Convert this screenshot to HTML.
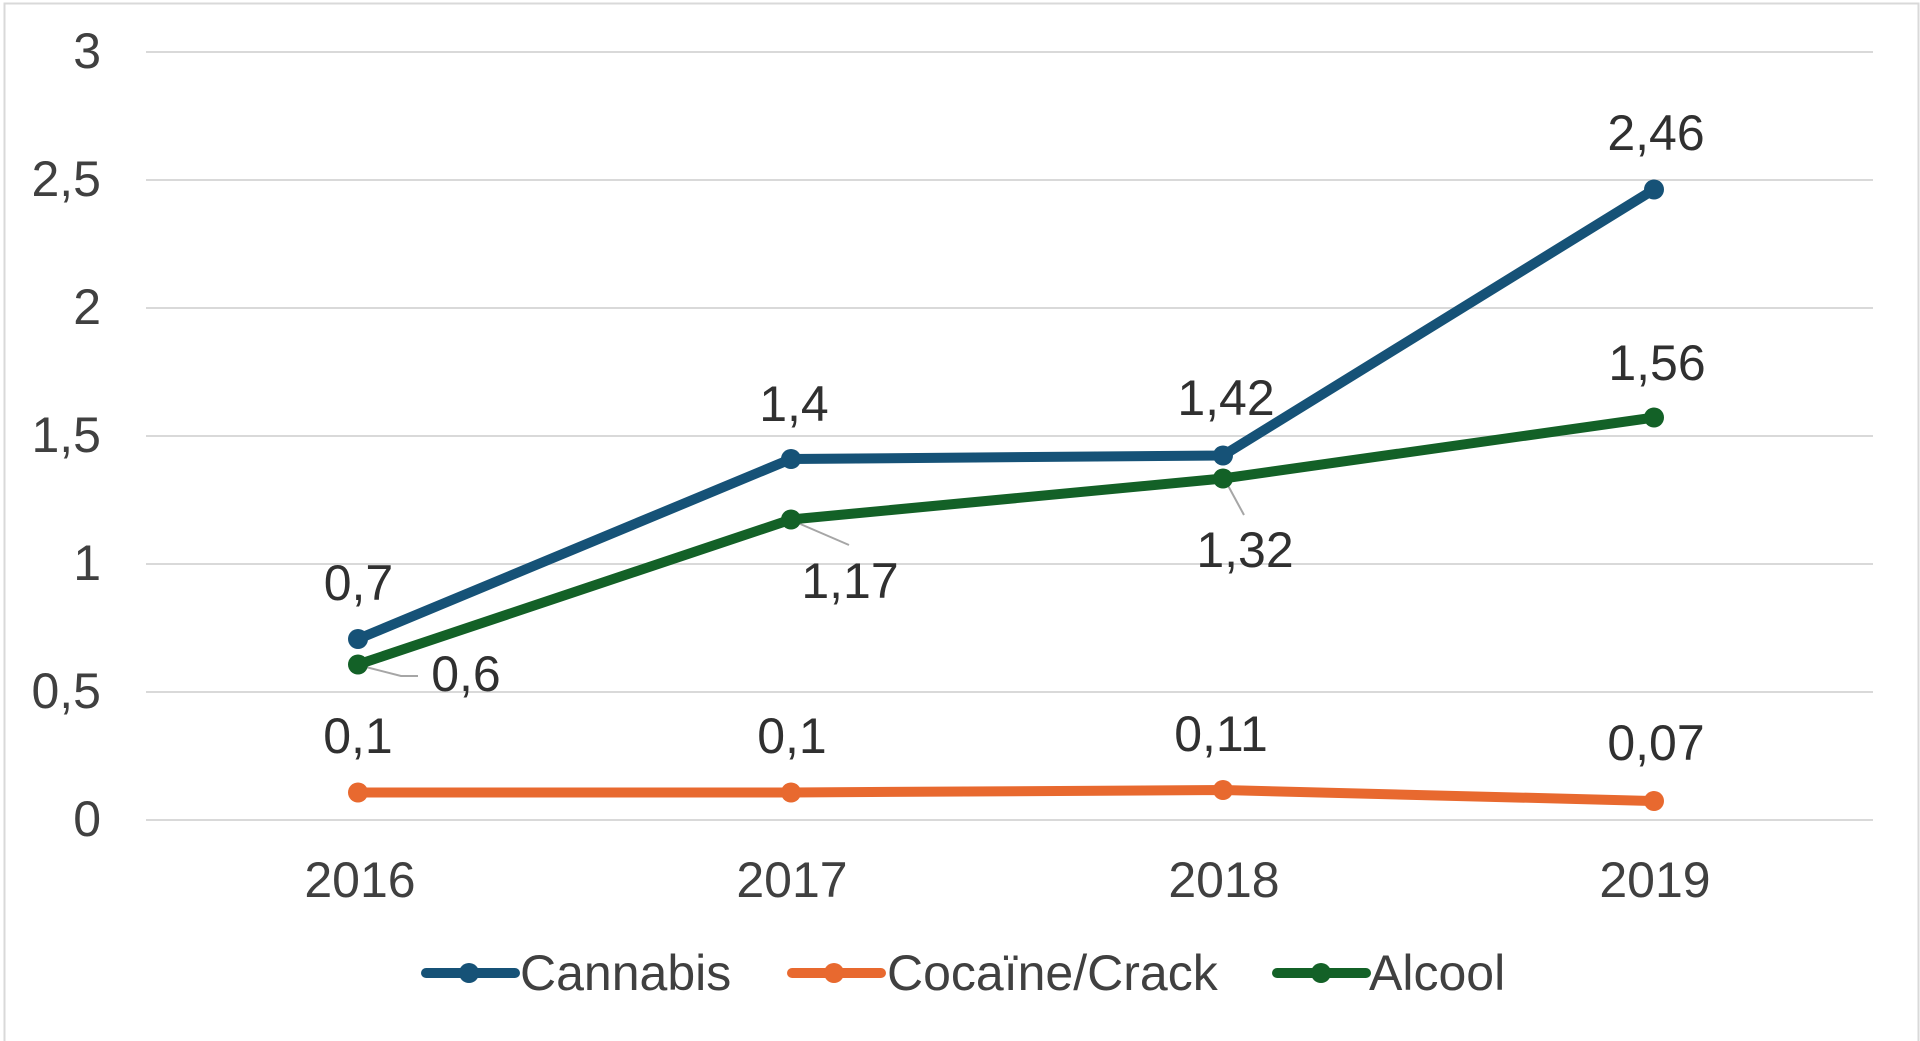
<!DOCTYPE html>
<html>
<head>
<meta charset="utf-8">
<style>
  html, body { margin: 0; padding: 0; background: #ffffff; }
  svg { display: block; }
  text { font-family: "Liberation Sans", Arial, sans-serif; font-size: 50px; }
  .ax { fill: #404040; }
  .dl { fill: #303030; }
  .lg { fill: #404040; }
</style>
</head>
<body>
<svg width="1920" height="1041" viewBox="0 0 1920 1041" xmlns="http://www.w3.org/2000/svg">
  <rect x="0" y="0" width="1920" height="1041" fill="#ffffff"/>
  <!-- chart border -->
  <path d="M4.5 1041 V3.5 H1918.5 V1041" fill="none" stroke="#d9d9d9" stroke-width="2"/>

  <!-- gridlines -->
  <g stroke="#d9d9d9" stroke-width="2">
    <line x1="146" y1="52" x2="1873" y2="52"/>
    <line x1="146" y1="180" x2="1873" y2="180"/>
    <line x1="146" y1="308" x2="1873" y2="308"/>
    <line x1="146" y1="436" x2="1873" y2="436"/>
    <line x1="146" y1="564" x2="1873" y2="564"/>
    <line x1="146" y1="692" x2="1873" y2="692"/>
    <line x1="146" y1="820" x2="1873" y2="820"/>
  </g>

  <!-- y axis labels -->
  <g class="ax" text-anchor="end">
    <text x="101" y="68">3</text>
    <text x="101" y="196">2,5</text>
    <text x="101" y="324">2</text>
    <text x="101" y="452">1,5</text>
    <text x="101" y="580">1</text>
    <text x="101" y="708">0,5</text>
    <text x="101" y="836">0</text>
  </g>

  <!-- x axis labels -->
  <g class="ax" text-anchor="middle">
    <text x="360" y="897">2016</text>
    <text x="792" y="897">2017</text>
    <text x="1224" y="897">2018</text>
    <text x="1655" y="897">2019</text>
  </g>

  <!-- leader lines -->
  <g stroke="#a6a6a6" stroke-width="2" fill="none">
    <polyline points="358,665 401,676 418,676"/>
    <line x1="791" y1="520" x2="849" y2="545"/>
    <line x1="1225" y1="480" x2="1244" y2="515"/>
  </g>

  <!-- Cocaine/Crack series -->
  <polyline points="358,792.5 791,792.5 1223,790 1654,801" fill="none" stroke="#e8692f" stroke-width="10" stroke-linejoin="round"/>
  <g fill="#e8692f">
    <circle cx="358" cy="792.5" r="10"/>
    <circle cx="791" cy="792.5" r="10"/>
    <circle cx="1223" cy="790" r="10"/>
    <circle cx="1654" cy="801" r="10"/>
  </g>

  <!-- Alcool series -->
  <polyline points="358,664.5 791,519.5 1223,478.5 1654,417.5" fill="none" stroke="#136127" stroke-width="10" stroke-linejoin="round"/>
  <g fill="#136127">
    <circle cx="358" cy="664.5" r="10"/>
    <circle cx="791" cy="519.5" r="10"/>
    <circle cx="1223" cy="478.5" r="10"/>
    <circle cx="1654" cy="417.5" r="10"/>
  </g>

  <!-- Cannabis series -->
  <polyline points="358,639 791,459 1223,455.5 1654,189.5" fill="none" stroke="#165277" stroke-width="10" stroke-linejoin="round"/>
  <g fill="#165277">
    <circle cx="358" cy="639" r="10"/>
    <circle cx="791" cy="459" r="10"/>
    <circle cx="1223" cy="455.5" r="10"/>
    <circle cx="1654" cy="189.5" r="10"/>
  </g>

  <!-- data labels -->
  <g class="dl" text-anchor="middle">
    <text x="358.5" y="600">0,7</text>
    <text x="794" y="421">1,4</text>
    <text x="1226" y="415">1,42</text>
    <text x="1656" y="150">2,46</text>

    <text x="358" y="753">0,1</text>
    <text x="792" y="753">0,1</text>
    <text x="1221" y="751">0,11</text>
    <text x="1656" y="760">0,07</text>

    <text x="466" y="691">0,6</text>
    <text x="850" y="598">1,17</text>
    <text x="1245" y="567">1,32</text>
    <text x="1657" y="380">1,56</text>
  </g>

  <!-- legend -->
  <g>
    <line x1="426" y1="973" x2="515" y2="973" stroke="#165277" stroke-width="10" stroke-linecap="round"/>
    <circle cx="469" cy="973" r="10" fill="#165277"/>
    <text class="lg" x="520" y="990">Cannabis</text>

    <line x1="792" y1="973" x2="881" y2="973" stroke="#e8692f" stroke-width="10" stroke-linecap="round"/>
    <circle cx="834" cy="973" r="10" fill="#e8692f"/>
    <text class="lg" x="887" y="990">Cocaïne/Crack</text>

    <line x1="1277" y1="973" x2="1366" y2="973" stroke="#136127" stroke-width="10" stroke-linecap="round"/>
    <circle cx="1321" cy="973" r="10" fill="#136127"/>
    <text class="lg" x="1369" y="990">Alcool</text>
  </g>
</svg>
</body>
</html>
